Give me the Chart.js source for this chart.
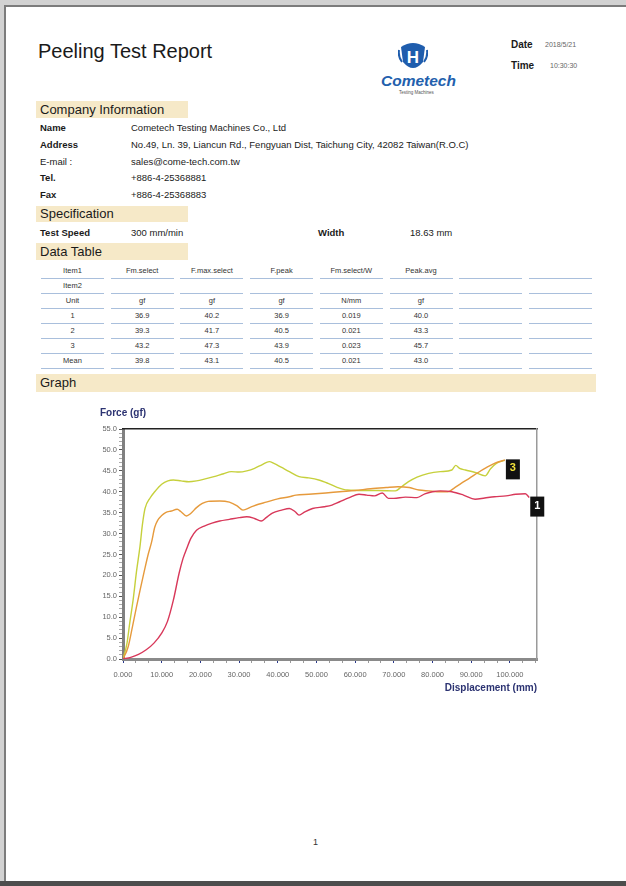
<!DOCTYPE html>
<html>
<head>
<meta charset="utf-8">
<title>Peeling Test Report</title>
<script src="https://cdn.jsdelivr.net/npm/chart.js@4.4.0/dist/chart.umd.min.js"></script>
<style>
  html, body { margin: 0; padding: 0; }
  body {
    width: 626px; height: 886px; overflow: hidden; position: relative;
    background: #d2d2d2;
    font-family: "Liberation Sans", Arial, sans-serif; color: #1a1a1a;
  }
  .abs { position: absolute; white-space: nowrap; }
  #page {
    left: 4px; top: 5px; width: 700px; height: 876px; background: #fff;
    border-left: 2px solid #7c7c7c; border-top: 2px solid #7c7c7c;
  }
  #pageBottom { left: 0; top: 881px; width: 626px; height: 5px; background: #4d4d4d; }
  .bar { background: #f6e9c8; font-size: 13px; padding-left: 4px; box-sizing: border-box; }
  .row { font-size: 9.5px; height: 16px; line-height: 16px; }
  .lbl { font-weight: bold; }
  .cell {
    font-size: 7.5px; color: #333; text-align: center; height: 14px; line-height: 14px;
    border-bottom: 1px solid #a9bfdc;
  }
  #chartBox { left: 95px; top: 400px; width: 455px; height: 300px; }
</style>
</head>
<body>
<div id="page" class="abs"></div>
<div id="pageBottom" class="abs"></div>

<div class="abs" style="left:38px; top:40px; font-size:20px;">Peeling Test Report</div>

<svg class="abs" style="left:398px; top:41px;" width="30" height="32" viewBox="0 0 30 32">
  <path d="M3 6 Q15 -2 27 6 L25 21 Q15 33 5 21 Z" fill="#1f5dad"/>
  <path d="M1 9 Q0 16 4 21" stroke="#1f5dad" stroke-width="2" fill="none"/>
  <path d="M29 9 Q30 16 26 21" stroke="#1f5dad" stroke-width="2" fill="none"/>
  <text x="15" y="22" text-anchor="middle" font-family="Liberation Sans" font-weight="bold" font-size="17" fill="#fff">H</text>
</svg>
<div class="abs" style="left:381px; top:72px; font-size:15.5px; font-weight:bold; font-style:italic; color:#2260ad;">Cometech</div>
<div class="abs" style="left:399px; top:90px; font-size:4.5px; color:#555;">Testing Machines</div>

<div class="abs" style="left:511px; top:39px; font-size:10px; font-weight:bold;">Date</div>
<div class="abs" style="left:545px; top:41px; font-size:7px; color:#666;">2018/5/21</div>
<div class="abs" style="left:511px; top:60px; font-size:10px; font-weight:bold;">Time</div>
<div class="abs" style="left:550px; top:62px; font-size:7px; color:#666;">10:30:30</div>

<div class="abs bar" style="left:36px; top:101px; width:152px; height:17px; line-height:17px;">Company Information</div>
<div class="abs row lbl" style="left:40px; top:120px;">Name</div>
<div class="abs row" style="left:131px; top:120px;">Cometech Testing Machines Co., Ltd</div>
<div class="abs row lbl" style="left:40px; top:137px;">Address</div>
<div class="abs row" style="left:131px; top:137px;">No.49, Ln. 39, Liancun Rd., Fengyuan Dist, Taichung City, 42082 Taiwan(R.O.C)</div>
<div class="abs row" style="left:40px; top:154px;">E-mail :</div>
<div class="abs row" style="left:131px; top:154px;">sales@come-tech.com.tw</div>
<div class="abs row lbl" style="left:40px; top:170px;">Tel.</div>
<div class="abs row" style="left:131px; top:170px;">+886-4-25368881</div>
<div class="abs row lbl" style="left:40px; top:187px;">Fax</div>
<div class="abs row" style="left:131px; top:187px;">+886-4-25368883</div>

<div class="abs bar" style="left:36px; top:206px; width:152px; height:16px; line-height:16px;">Specification</div>
<div class="abs row lbl" style="left:40px; top:225px;">Test Speed</div>
<div class="abs row" style="left:131px; top:225px;">300 mm/min</div>
<div class="abs row lbl" style="left:318px; top:225px;">Width</div>
<div class="abs row" style="left:410px; top:225px;">18.63 mm</div>

<div class="abs bar" style="left:36px; top:243px; width:152px; height:17px; line-height:17px;">Data Table</div>
<div id="table"></div>

<div class="abs bar" style="left:36px; top:374px; width:560px; height:18px; line-height:18px;">Graph</div>

<div id="chartBox" class="abs"><canvas id="chart"></canvas></div>

<div class="abs" style="left:313px; top:837px; font-size:9px; color:#333;">1</div>

<script>
// ---- data table ----
const tableHead = ['Item1', 'Fm.select', 'F.max.select', 'F.peak', 'Fm.select/W', 'Peak.avg', '', ''];
const tableItem2 = ['Item2', '', '', '', '', '', '', ''];
const tableUnits = ['Unit', 'gf', 'gf', 'gf', 'N/mm', 'gf', '', ''];
const tableRows = [
  ['1', '36.9', '40.2', '36.9', '0.019', '40.0', '', ''],
  ['2', '39.3', '41.7', '40.5', '0.021', '43.3', '', ''],
  ['3', '43.2', '47.3', '43.9', '0.023', '45.7', '', ''],
  ['Mean', '39.8', '43.1', '40.5', '0.021', '43.0', '', '']
];

const tbl = document.getElementById('table');
[tableHead, tableItem2, tableUnits, ...tableRows].forEach((r, ri) => {
  r.forEach((txt, ci) => {
    const d = document.createElement('div');
    d.className = 'abs cell';
    d.style.left = (41 + ci * 69.7) + 'px';
    d.style.top = (264 + ri * 15) + 'px';
    d.style.width = '63px';
    d.textContent = txt;
    tbl.appendChild(d);
  });
});

// ---- curves: displacement (mm) / force (gf) ----
const disp1 = [0, 2, 4, 6, 8, 10, 11.5, 13, 14.5, 15.5, 16.5, 17.5, 19, 21, 23, 25, 27.5, 30, 32, 34, 35.7, 37, 38.6, 41, 43, 44.5, 45.5, 47, 49, 52, 54, 56, 58.5, 61, 63, 65, 67, 68.6, 70, 73, 76, 78, 80, 82, 85, 88, 91, 93.5, 96, 99, 101.5, 104, 105];
const force1 = [0, 0.4, 1.1, 2.2, 3.8, 6.2, 9, 14, 20.5, 24, 26.5, 28.8, 30.8, 31.8, 32.5, 33.0, 33.4, 33.8, 34.0, 33.6, 33.0, 33.8, 34.9, 35.6, 36.0, 35.2, 34.4, 35.2, 36.0, 36.4, 36.8, 37.6, 38.6, 39.4, 39.2, 39.0, 39.7, 38.4, 38.4, 38.7, 38.6, 39.5, 40.0, 40.2, 40.0, 39.2, 38.2, 38.5, 38.8, 39.0, 39.4, 39.5, 38.6];

const disp2 = [0, 1.3, 2.5, 3.5, 4.4, 5.5, 6.5, 7.4, 8.2, 9, 10, 11, 12.5, 14, 15, 16.4, 17.5, 19, 20.5, 22, 25, 27.5, 29.5, 31, 33, 35, 37, 40, 43, 44.7, 48, 52.4, 56, 60, 64, 68, 71, 74, 76.5, 79, 82, 84, 85.5, 87.4, 89.5, 91.8, 94, 96, 98.7];
const force2 = [0, 2.8, 8, 12.5, 16.4, 21, 25, 28, 31.5, 33.2, 34.3, 35, 35.4, 35.8, 35.2, 34.2, 34.8, 36.2, 37.2, 37.7, 37.8, 37.5, 36.6, 35.6, 36.3, 37, 37.5, 38.3, 38.8, 39.2, 39.4, 39.7, 40.0, 40.3, 40.7, 41.0, 41.2, 41.0, 40.4, 40.2, 40.0, 40.0, 40.8, 42, 43.2, 44.6, 45.8, 46.8, 47.6];

const disp3 = [0, 1, 1.8, 2.6, 3.5, 4.4, 5, 5.7, 7, 8.2, 10, 11.6, 13, 15, 17, 19, 21, 23.5, 26, 28, 30, 32, 34, 36, 37.8, 39, 41, 43, 45.5, 48, 50.6, 53, 55.5, 58, 62, 66, 70.4, 72, 73.8, 76, 79, 82, 85, 86, 87, 88.5, 91, 93.6, 95, 96.5, 98.7];
const force3 = [0, 3.6, 9, 14, 21, 27, 32, 36, 38.5, 40, 41.8, 42.6, 42.8, 42.6, 42.4, 42.6, 43.0, 43.6, 44.3, 44.8, 44.7, 45.0, 45.6, 46.5, 47.2, 46.8, 45.8, 44.8, 43.6, 43.3, 42.8, 42.0, 41.0, 40.4, 40.3, 40.3, 40.2, 41.2, 42.4, 43.5, 44.4, 44.8, 45.2, 46.3, 45.6, 45.2, 44.6, 43.8, 45.5, 46.8, 47.5];

const xMin = 0, xMax = 107, xMajorStep = 10, xMinorPerMajor = 3;
const yMin = 0, yMax = 55, yMinorStep = 1, yMajorEvery = 5;

const pts = (xs, ys) => xs.map((x, i) => ({ x: x, y: ys[i] }));
const fontFam = '"Liberation Sans", Arial, sans-serif';

// black end-of-curve tags ("1", "3")
const endTags = {
  id: 'endTags',
  afterDatasetsDraw(chart) {
    const { ctx, scales } = chart;
    chart.data.datasets.forEach(ds => {
      if (!ds.tag) return;
      const last = ds.data[ds.data.length - 1];
      const px = scales.x.getPixelForValue(last.x);
      const py = scales.y.getPixelForValue(last.y);
      ctx.save();
      ctx.fillStyle = '#111';
      ctx.fillRect(px + 1, py - 1, 14, 20);
      ctx.fillStyle = ds.tagColor;
      ctx.font = 'bold 11px ' + fontFam;
      ctx.textAlign = 'center';
      ctx.textBaseline = 'middle';
      ctx.fillText(ds.tag, px + 8, py + 8);
      ctx.restore();
    });
  }
};

new Chart(document.getElementById('chart'), {
  type: 'line',
  data: {
    datasets: [
      { label: '1', data: pts(disp1, force1), borderColor: '#d8385a', tag: '1', tagColor: '#ffffff' },
      { label: '2', data: pts(disp2, force2), borderColor: '#e69a3c' },
      { label: '3', data: pts(disp3, force3), borderColor: '#c6d03c', tag: '3', tagColor: '#f2e23a' }
    ]
  },
  options: {
    responsive: true,
    maintainAspectRatio: false,
    animation: false,
    parsing: true,
    layout: { padding: { left: 5, right: 13, top: 5, bottom: 0 } },
    elements: {
      point: { radius: 0 },
      line: { borderWidth: 1.4, cubicInterpolationMode: 'monotone', fill: false }
    },
    plugins: {
      legend: { display: false },
      tooltip: { enabled: false },
      title: {
        display: true, text: 'Force (gf)', align: 'start', color: '#2c3372',
        font: { family: fontFam, size: 10, weight: 'bold' },
        padding: { top: 2, bottom: 10 }
      }
    },
    scales: {
      x: {
        type: 'linear', position: 'bottom', min: xMin, max: xMax,
        afterBuildTicks(scale) {
          const step = xMajorStep / xMinorPerMajor;
          const t = [];
          for (let i = 0; i * step <= xMax + 1e-9; i++) t.push({ value: i * step });
          scale.ticks = t;
        },
        afterFit(scale) { scale.height = 41; },
        ticks: {
          autoSkip: false, maxRotation: 0, padding: 7, color: '#666',
          font: { family: fontFam, size: 7.5 },
          callback: (v, i) => (i % xMinorPerMajor === 0 ? Number(v).toFixed(3) : '')
        },
        grid: {
          display: true, drawOnChartArea: false, drawTicks: true, tickLength: 4,
          tickColor: c => (c.index % xMinorPerMajor === 0 ? '#2b3a8c' : '#9a9a9a'),
          tickWidth: 1
        },
        border: { display: true, color: '#8a8a8a', width: 3 },
        title: {
          display: true, text: 'Displacement (mm)', align: 'end', color: '#2c3372',
          font: { family: fontFam, size: 10, weight: 'bold' },
          padding: { top: 0, bottom: 6 }
        }
      },
      y: {
        type: 'linear', position: 'left', min: yMin, max: yMax,
        afterFit(scale) { scale.width = 23; },
        ticks: {
          stepSize: yMinorStep, autoSkip: false, padding: 2, color: '#666',
          font: { family: fontFam, size: 7.5 },
          callback: v => (v % yMajorEvery === 0 ? Number(v).toFixed(1) : '')
        },
        grid: {
          display: true, drawOnChartArea: false, drawTicks: true, tickLength: 4,
          tickColor: c => (c.tick && c.tick.value % yMajorEvery === 0 ? '#555' : '#aaa'),
          tickWidth: 1
        },
        border: { display: true, color: '#808080', width: 3 }
      },
      xTop: {
        type: 'linear', position: 'top', min: xMin, max: xMax,
        ticks: { display: false },
        grid: { display: false, drawTicks: false },
        border: { display: true, color: '#222', width: 1.5 }
      },
      yRight: {
        type: 'linear', position: 'right', min: yMin, max: yMax,
        ticks: { display: false },
        grid: { display: false, drawTicks: false },
        border: { display: true, color: '#9a9a9a', width: 1.5 }
      }
    }
  },
  plugins: [endTags]
});
</script>
</body>
</html>
